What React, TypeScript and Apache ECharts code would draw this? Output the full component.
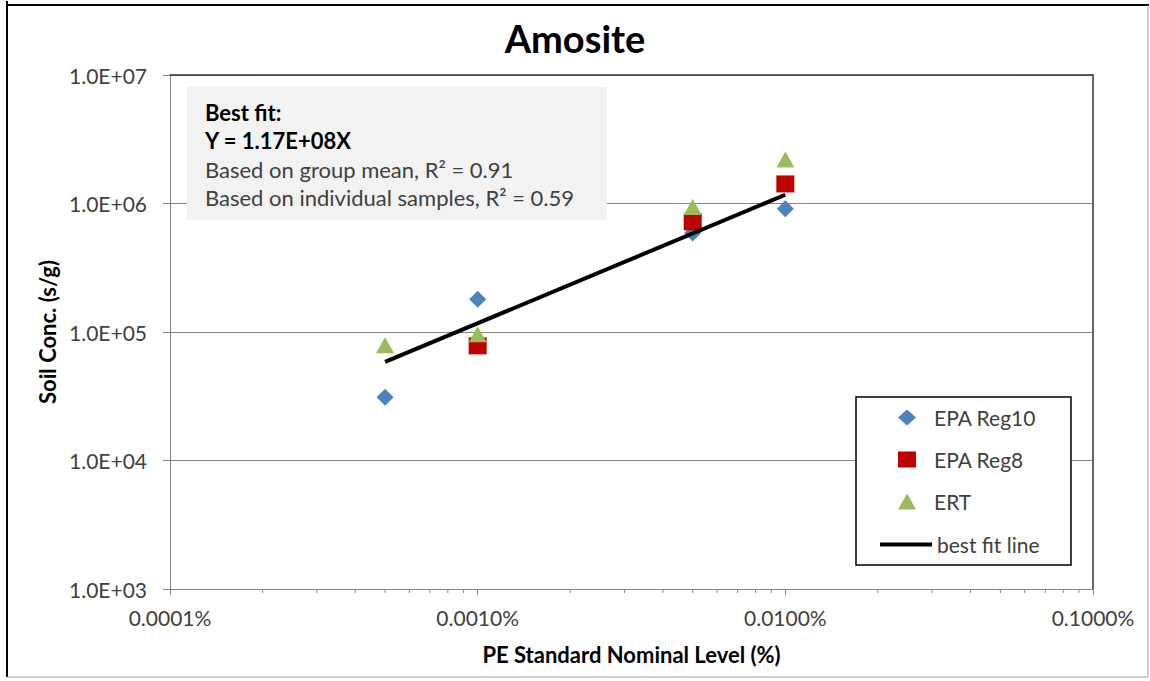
import React, { useEffect, useRef } from "react";
import * as echarts from "echarts";

const reg10X = [0.0005, 0.001, 0.005, 0.01];
const reg10Y = [31000, 180000, 590000, 910000];
const reg8X = [0.001, 0.005, 0.01];
const reg8Y = [78000, 720000, 1420000];
const ertX = [0.0005, 0.001, 0.005, 0.01];
const ertY = [79000, 96000, 940000, 2200000];
const fitX = [0.0005, 0.01];
const fitY = [58500, 1170000];
const minorTickValues = [
  0.0002, 0.0003, 0.0004, 0.0005, 0.0006, 0.0007, 0.0008, 0.0009,
  0.002, 0.003, 0.004, 0.005, 0.006, 0.007, 0.008, 0.009,
  0.02, 0.03, 0.04, 0.05, 0.06, 0.07, 0.08, 0.09,
];
const noteLines = [
  "Best fit:",
  "Y = 1.17E+08X",
  "Based on group mean, R\u00B2 = 0.91",
  "Based on individual samples, R\u00B2 = 0.59",
];

const FONT = "Lato, 'DejaVu Sans', sans-serif";
const AXIS_GRAY = "#868686";
const TEXT = "#404040";

export default function App() {
  const ref = useRef<HTMLDivElement>(null);
  useEffect(() => {
    if (!ref.current) return;
    const chart = echarts.init(ref.current, null, { renderer: "svg" });
    const zip = (xs: number[], ys: number[]) => xs.map((x, i) => [x, ys[i]]);
    const yFmt = (v: number) => {
      const e = Math.round(Math.log10(v));
      return "1.0E+" + String(e).padStart(2, "0");
    };
    const legendText = { fontFamily: FONT, fontSize: 21, color: TEXT };
    chart.setOption({
      animation: false,
      backgroundColor: "#fff",
      textStyle: { fontFamily: FONT },
      title: {
        text: "Amosite",
        left: "center",
        top: 14,
        textStyle: { fontFamily: FONT, fontSize: 38, fontWeight: "bold", color: "#000" },
      },
      grid: { left: 170, right: 57, top: 75, bottom: 92 },
      legend: [
        {
          orient: "vertical",
          left: 898,
          top: 407,
          padding: 0,
          itemGap: 21,
          itemWidth: 18,
          itemHeight: 16,
          textStyle: { ...legendText, padding: [0, 0, 0, 13] },
          data: ["EPA Reg10", "EPA Reg8", "ERT"],
        },
        {
          orient: "vertical",
          left: 880,
          top: 534,
          padding: 0,
          itemWidth: 52,
          itemHeight: 4,
          textStyle: { ...legendText },
          data: [{ name: "best fit line", icon: "rect" }],
        },
      ],
      xAxis: [
        {
          type: "log",
          min: 0.0001,
          max: 0.1,
          logBase: 10,
          name: "PE Standard Nominal Level (%)",
          nameLocation: "middle",
          nameGap: 54,
          nameTextStyle: { fontFamily: FONT, fontSize: 22, fontWeight: "bold", color: "#000" },
          axisLine: { show: true, lineStyle: { color: AXIS_GRAY, width: 1 } },
          axisTick: { show: true, inside: false, length: 6, lineStyle: { color: AXIS_GRAY } },
          axisLabel: {
            margin: 18,
            fontFamily: FONT,
            fontSize: 21,
            color: TEXT,
            formatter: (v: number) => v.toFixed(4) + "%",
          },
          splitLine: { show: false },
        },
        {
          type: "log",
          min: 0.0001,
          max: 0.1,
          position: "top",
          axisLine: { show: true, lineStyle: { color: "#333", width: 1.5 } },
          axisTick: { show: false },
          axisLabel: { show: false },
          splitLine: { show: false },
        },
      ],
      yAxis: [
        {
          type: "log",
          min: 1000,
          max: 10000000,
          logBase: 10,
          name: "Soil Conc. (s/g)",
          nameLocation: "middle",
          nameGap: 110,
          nameTextStyle: { fontFamily: FONT, fontSize: 22, fontWeight: "bold", color: "#000" },
          axisLine: { show: true, lineStyle: { color: AXIS_GRAY, width: 1 } },
          axisTick: { show: true, inside: false, length: 7, lineStyle: { color: AXIS_GRAY } },
          axisLabel: { margin: 23, fontFamily: FONT, fontSize: 21, color: TEXT, formatter: yFmt },
          splitLine: { show: true, lineStyle: { color: AXIS_GRAY, width: 1 } },
        },
        {
          type: "log",
          min: 1000,
          max: 10000000,
          position: "right",
          axisLine: { show: true, lineStyle: { color: "#333", width: 1.5 } },
          axisTick: { show: false },
          axisLabel: { show: false },
          splitLine: { show: false },
        },
      ],
      graphic: [
        {
          type: "rect",
          left: 187,
          top: 87,
          shape: { width: 420, height: 133 },
          style: { fill: "#F2F2F2" },
          z: 1,
        },
        ...noteLines.map((t, i) => ({
          type: "text",
          x: 205,
          y: [112, 140, 169, 197][i],
          z: 2,
          style: {
            text: t,
            fontFamily: FONT,
            fontSize: 22,
            fontWeight: i < 2 ? "bold" : "normal",
            fill: i < 2 ? "#000" : TEXT,
            verticalAlign: "middle",
            align: "left",
          },
        })),
        {
          type: "rect",
          x: 856,
          y: 397,
          shape: { width: 215, height: 168 },
          style: { fill: "#fff", stroke: "#000", lineWidth: 1.5 },
          z: 1,
        },
        {
          type: "line",
          shape: { x1: 7, y1: 1, x2: 7, y2: 677 },
          style: { stroke: "#000", lineWidth: 2 },
        },
        {
          type: "line",
          shape: { x1: 6, y1: 5, x2: 1149, y2: 5 },
          style: { stroke: "#000", lineWidth: 2 },
        },
        {
          type: "line",
          shape: { x1: 1148, y1: 5, x2: 1148, y2: 677 },
          style: { stroke: "#A0A0A0", lineWidth: 1 },
        },
        {
          type: "line",
          shape: { x1: 7, y1: 677, x2: 1148, y2: 677 },
          style: { stroke: "#A0A0A0", lineWidth: 1 },
        },
      ],
      series: [
        {
          name: "minor ticks",
          type: "custom",
          silent: true,
          clip: false,
          data: minorTickValues.map((v) => [v, 1000]),
          renderItem: (_p: any, api: any) => {
            const pt = api.coord([api.value(0), api.value(1)]);
            return {
              type: "line",
              shape: { x1: pt[0], y1: pt[1], x2: pt[0], y2: pt[1] + 4 },
              style: { stroke: AXIS_GRAY, lineWidth: 1 },
            };
          },
        },
        {
          name: "EPA Reg10",
          type: "scatter",
          symbol: "diamond",
          symbolSize: 17,
          itemStyle: { color: "#4F81BD", opacity: 1 },
          data: zip(reg10X, reg10Y),
          z: 3,
        },
        {
          name: "EPA Reg8",
          type: "scatter",
          symbol: "rect",
          symbolSize: [18, 17],
          itemStyle: { color: "#C00000", opacity: 1 },
          data: zip(reg8X, reg8Y),
          z: 4,
        },
        {
          name: "ERT",
          type: "scatter",
          symbol: "triangle",
          symbolSize: [18, 16],
          itemStyle: { color: "#9BBB59", opacity: 1 },
          data: zip(ertX, ertY),
          z: 5,
        },
        {
          name: "best fit line",
          type: "line",
          symbol: "none",
          showSymbol: false,
          lineStyle: { color: "#000", width: 4 },
          itemStyle: { color: "#000" },
          data: zip(fitX, fitY),
          z: 6,
        },
      ],
    });
    return () => chart.dispose();
  }, []);
  return (
    <div
      ref={ref}
      style={{ position: "fixed", left: 0, top: 0, width: 1150, height: 681 }}
    />
  );
}
